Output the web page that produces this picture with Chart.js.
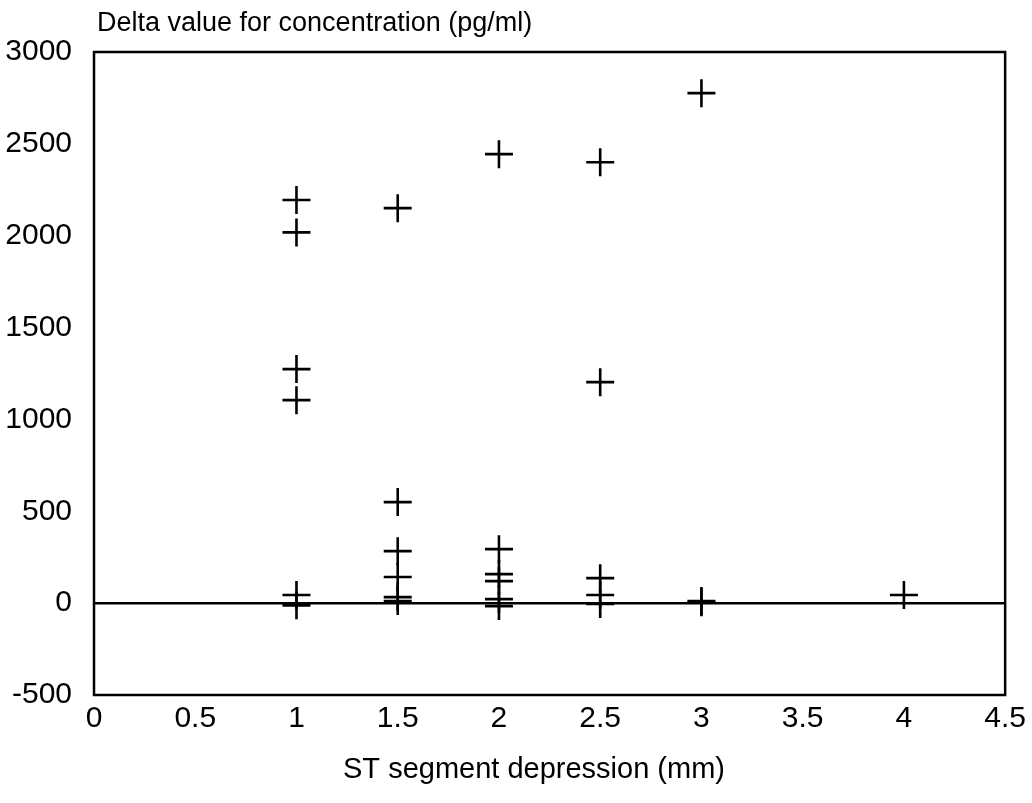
<!DOCTYPE html>
<html>
<head>
<meta charset="utf-8">
<script src="https://cdn.jsdelivr.net/npm/chart.js@4.4.0/dist/chart.umd.min.js"></script>
<style>
  html, body { margin: 0; padding: 0; background: #fff; }
  #wrap { width: 1032px; height: 803px; }
</style>
</head>
<body>
<div id="wrap"><canvas id="chart" width="1032" height="803"></canvas></div>
<script>
// ST segment depression (mm) for each patient
const stDepression = [
  1, 1, 1, 1, 1, 1,
  1.5, 1.5, 1.5, 1.5, 1.5, 1.5,
  2, 2, 2, 2, 2, 2,
  2.5, 2.5, 2.5, 2.5, 2.5,
  3, 3, 3,
  4
];
// delta value for concentration (pg/ml)
const deltaConc = [
  2194, 2018, 1274, 1105, 44, -12,
  2150, 550, 283, 142, 33, 11,
  2444, 294, 158, 120, 22, -16,
  2400, 1203, 136, 44, -5,
  2776, 11, 5,
  44
];
const xMin = 0, xMax = 4.5, xStep = 0.5;
const yMin = -500, yMax = 3000, yStep = 500;

const yTitle = 'Delta value for concentration (pg/ml)';
const xTitle = 'ST segment depression (mm)';

const points = stDepression.map((x, i) => ({ x: x, y: deltaConc[i] }));
const font = 'Liberation Sans, Arial, Helvetica, sans-serif';

const framePlugin = {
  id: 'frame',
  afterDraw(chart) {
    const ctx = chart.ctx;
    const a = chart.chartArea;
    ctx.save();
    ctx.strokeStyle = '#000';
    ctx.lineWidth = 2.5;
    ctx.strokeRect(a.left, a.top, a.right - a.left, a.bottom - a.top);
    ctx.fillStyle = '#000';
    ctx.textBaseline = 'middle';
    ctx.font = '27px ' + font;
    ctx.textAlign = 'left';
    ctx.fillText(yTitle, a.left + 3, 24);
    ctx.font = '29px ' + font;
    ctx.textAlign = 'center';
    ctx.fillText(xTitle, 534, 770);
    ctx.restore();
  }
};

new Chart(document.getElementById('chart').getContext('2d'), {
  type: 'scatter',
  data: {
    datasets: [{
      data: points,
      pointStyle: 'cross',
      pointRadius: 14,
      pointHoverRadius: 14,
      borderColor: '#000',
      backgroundColor: '#000',
      borderWidth: 2.6
    }]
  },
  options: {
    responsive: false,
    animation: false,
    events: [],
    layout: { padding: { top: 52, right: 24, left: 0, bottom: 0 } },
    plugins: { legend: { display: false }, tooltip: { enabled: false } },
    scales: {
      x: {
        type: 'linear',
        min: xMin, max: xMax,
        border: { display: false },
        grid: { display: false, drawTicks: false },
        afterFit(scale) { scale.height = 108; },
        ticks: {
          stepSize: xStep,
          color: '#000',
          padding: 6,
          font: { family: font, size: 30 },
          maxRotation: 0,
          callback: v => String(v)
        }
      },
      y: {
        type: 'linear',
        min: yMin, max: yMax,
        border: { display: false },
        afterFit(scale) { scale.width = 94; },
        grid: {
          drawTicks: false,
          color: c => c.tick && c.tick.value === 0 ? '#000' : 'rgba(0,0,0,0)',
          lineWidth: c => c.tick && c.tick.value === 0 ? 2.6 : 0
        },
        ticks: {
          stepSize: yStep,
          color: '#000',
          padding: 22,
          font: { family: font, size: 30 },
          callback: v => String(v)
        }
      }
    }
  },
  plugins: [framePlugin]
});
</script>
</body>
</html>
